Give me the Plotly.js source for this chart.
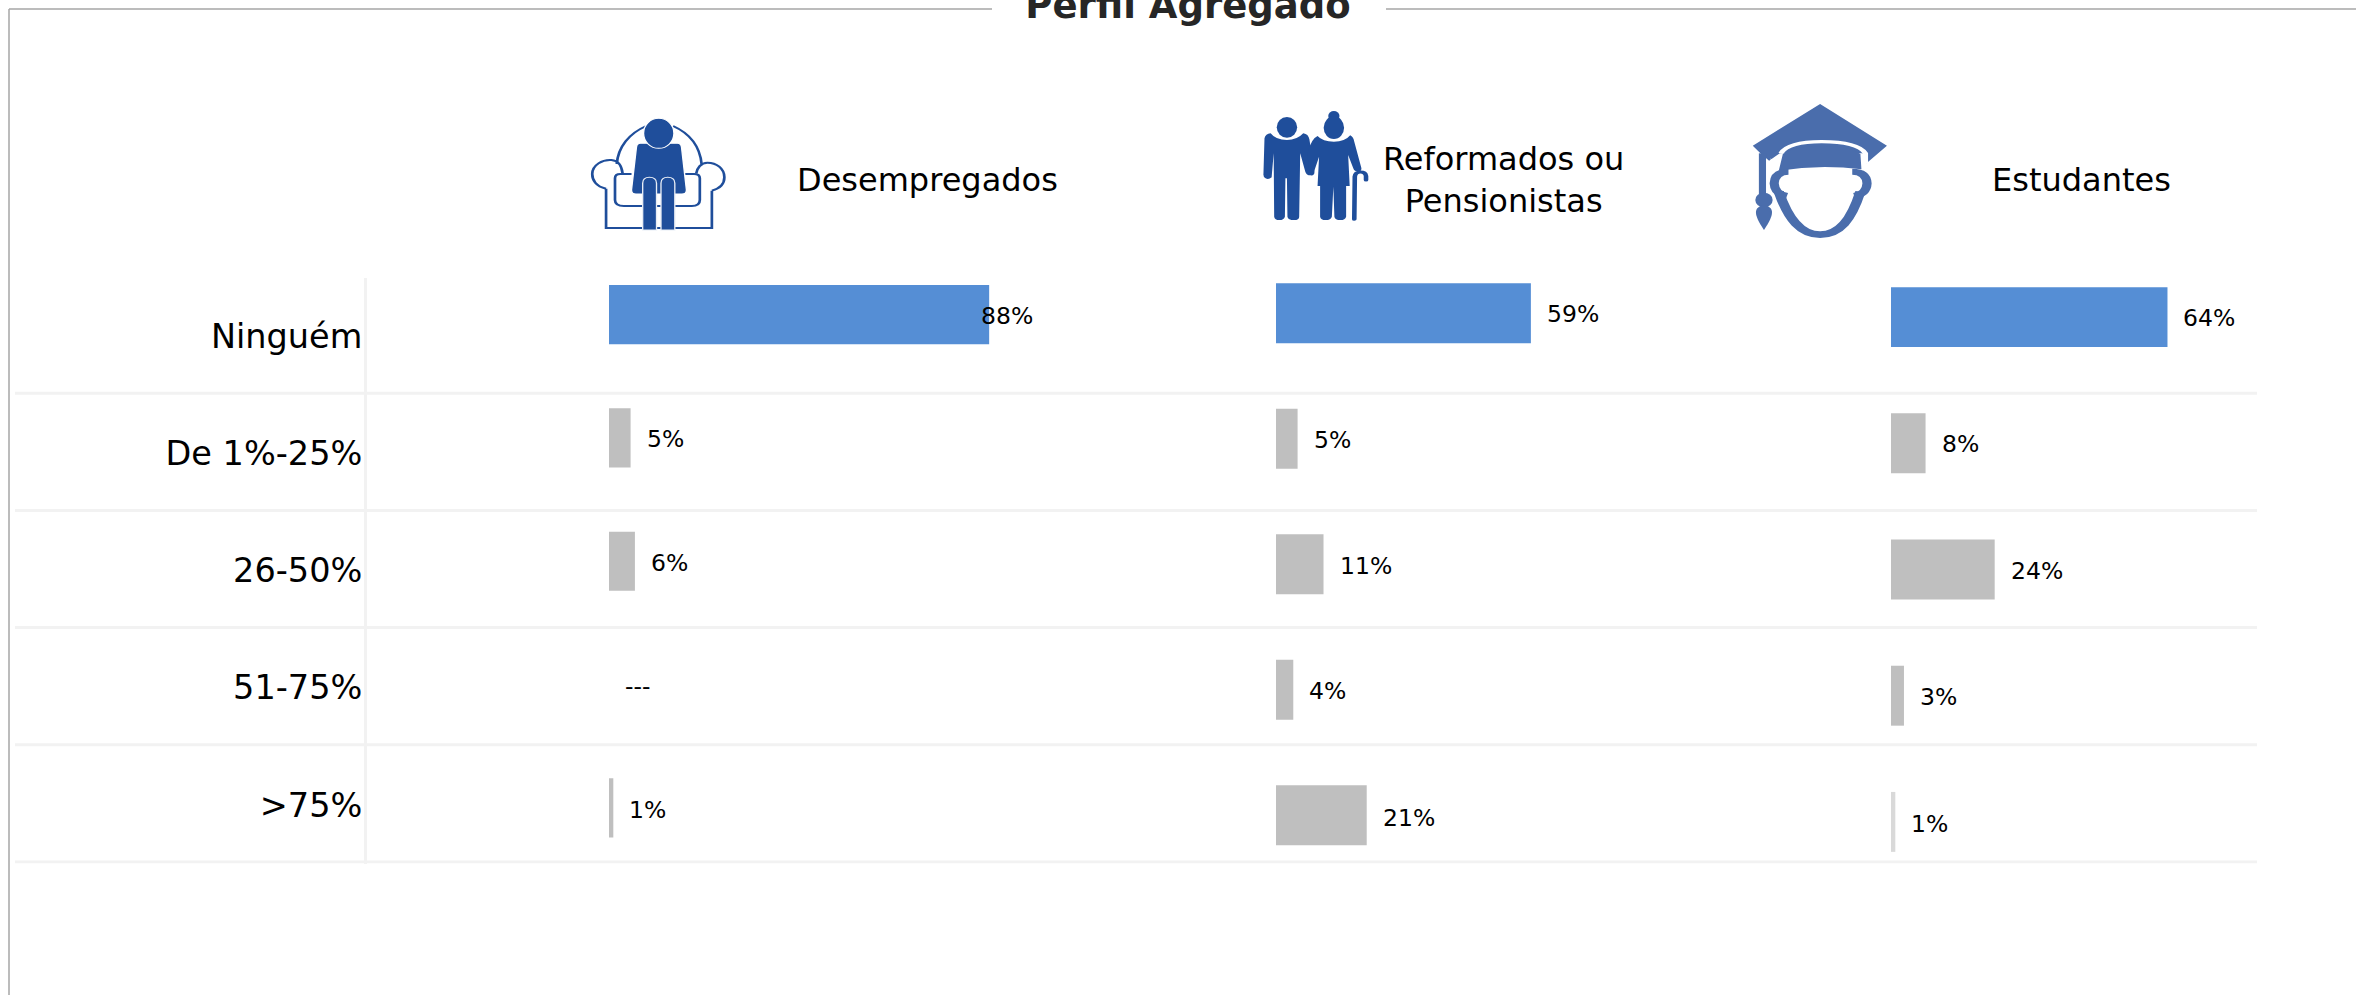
<!DOCTYPE html>
<html><head><meta charset="utf-8">
<script src="https://cdn.plot.ly/plotly-3.0.1.min.js"></script>
<style>html,body{margin:0;padding:0;background:#fff;overflow:hidden}</style>
</head><body><div id="chart" style="width:2356px;height:995px"></div>
<script>
const categories = ['Ninguém','De 1%-25%','26-50%','51-75%','>75%'];
const groupNames = ['Desempregados','Reformados ou<br>Pensionistas','Estudantes'];
const desempregados = [88,5,6,null,1];
const reformados = [59,5,11,4,21];
const estudantes = [64,8,24,3,1];
const chartTitle = 'Perfil Agregado';
const series = [desempregados,reformados,estudantes];

const W=2356,H=995,FONT='"DejaVu Sans", Verdana, sans-serif';
const px=x=>x/W, py=y=>1-y/H;
const cols=[{x0:609,top:253,rowH:123.3,gap:.52,head:[927,180],lift:[1,1.5,1.5,1.5,2.5]},
            {x0:1276,top:250.5,rowH:125.5,gap:.52,head:[1503,180],lift:[1,1.5,1.5,1.5,2.5]},
            {x0:1891,top:254,rowH:126.2,gap:.525,head:[2081,180],lift:[1,1,1,1,2]}];
const pxPerPct=4.32, BLUE='#558ed5', GREY='#bfbfbf', PALE='#d9d9d9';
const data=[],layout={width:W,height:H,autosize:false,margin:{l:0,r:0,t:0,b:0,pad:0},
  paper_bgcolor:'#fff',plot_bgcolor:'rgba(0,0,0,0)',showlegend:false,bargap:.52,
  title:{text:'<b>'+chartTitle+'</b>',x:1188/W,xanchor:'center',xref:'paper',y:1-5.5/H,yref:'paper',yanchor:'middle',font:{family:FONT,size:37,color:'#262626'}},
  shapes:[],annotations:[],images:[]};

// row-label axis
data.push({type:'scatter',mode:'none',x:categories.map(()=>0),y:categories,xaxis:'x4',yaxis:'y4',hoverinfo:'skip'});
layout.xaxis4={domain:[px(367),px(2257)],range:[0,1],visible:false,anchor:'y4',fixedrange:true};
layout.yaxis4={domain:[py(863.5),py(277.5)],type:'category',categoryorder:'array',categoryarray:categories,range:[4.5,-.5],autorange:false,
  anchor:'x4',showgrid:false,zeroline:false,showline:true,linecolor:'#f2f2f2',linewidth:3,ticks:'',ticklabelstandoff:-5,tickfont:{family:FONT,size:33.5,color:'#000'},fixedrange:true};
[.5,1.5,2.5,3.5,4.5].forEach(v=>layout.shapes.push({type:'line',xref:'paper',yref:'y4',x0:px(15),x1:px(2257),y0:v-.0128,y1:v-.0128,line:{color:'#f2f2f2',width:3},layer:'below'}));

// three bar panels
cols.forEach((c,i)=>{
  const n=i+1, xn=n===1?'xaxis':'xaxis'+n, yn=n===1?'yaxis':'yaxis'+n, vals=series[i];
  data.push({type:'bar',orientation:'h',x:vals,y:categories,xaxis:'x'+(n===1?'':n),yaxis:'y'+(n===1?'':n),
    width:1-c.gap,marker:{color:categories.map((_,k)=>k===0?BLUE:(i===2&&k===4?PALE:GREY)),line:{width:0}},hoverinfo:'skip',cliponaxis:false});
  layout[xn]={domain:[px(c.x0),px(c.x0+100*pxPerPct)],range:[0,100],autorange:false,visible:false,anchor:'y'+(n===1?'':n),fixedrange:true};
  layout[yn]={domain:[py(c.top+5*c.rowH),py(c.top)],type:'category',categoryorder:'array',categoryarray:categories,range:[4.5,-.5],autorange:false,visible:false,anchor:'x'+(n===1?'':n),fixedrange:true};
  vals.forEach((v,k)=>{
    layout.annotations.push({xref:'x'+(n===1?'':n),yref:'y'+(n===1?'':n),x:v==null?0:v,y:categories[k],
      text:v==null?'---':v+'%',showarrow:false,xanchor:'left',yanchor:'middle',
      xshift:v===88?-10:14,yshift:-c.lift[k],font:{family:FONT,size:23.5,color:'#000'}});
  });
  layout.annotations.push({xref:'paper',yref:'paper',x:px(c.head[0]),y:py(c.head[1]),text:groupNames[i],showarrow:false,
    xanchor:'center',yanchor:'middle',align:'center',font:{family:FONT,size:32,color:'#000'}});
});

// frame around the card
const frame='#a6a6a6';
[[9,9,992,9],[1386,9,2356,9],[9,9,9,995]].forEach(s=>layout.shapes.push({type:'line',xref:'paper',yref:'paper',
  x0:px(s[0]),y0:py(s[1]),x1:px(s[2]),y1:py(s[3]),line:{color:frame,width:1.5}}));

// icons, drawn in a 1568x780 box stretched over their crop
const svgImg=(body,w,h)=>'data:image/svg+xml;utf8,'+encodeURIComponent(
 `<svg xmlns="http://www.w3.org/2000/svg" width="${w}" height="${h}" viewBox="0 0 1568 780" preserveAspectRatio="none">${body}</svg>`);
const C1='#1f4e9b',C3='#4a6dac';
const chair=`<g fill="none" stroke="${C1}" stroke-width="6">
<path d="M172,222 C175,170 200,130 238,108 M298,108 C335,130 358,170 362,222"/>
<path d="M148,296 C125,290 117,270 117,252 C117,225 140,208 160,210 C175,212 183,228 185,250"/>
<path d="M385,302 C405,295 413,280 413,262 C413,235 395,218 375,218 C360,218 352,235 350,250"/>
<path d="M148,296 L148,414 L385,414 L385,302"/>
<path d="M205,252 L180,252 Q168,252 168,265 L168,330 Q168,348 188,348 L340,348 Q358,348 358,330 L358,265 Q358,252 345,252 L325,252"/></g>
<path fill="${C1}" stroke="#fff" stroke-width="3" d="M225,160 L308,160 Q316,160 317,172 L328,300 Q328,312 318,312 L215,312 Q205,312 205,300 L216,172 Q217,160 225,160 Z"/>
<ellipse cx="266" cy="130" rx="34" ry="45" fill="${C1}" stroke="#fff" stroke-width="3"/>
<path fill="${C1}" stroke="#e8edf5" stroke-width="3" d="M230,420 L230,280 Q230,262 245,262 Q261,262 261,280 L261,420 Z M271,420 L271,280 Q271,262 286,262 Q302,262 302,280 L302,420 Z"/>`;
const couple=`<g fill="${C1}">
<ellipse cx="92" cy="112" rx="20" ry="31"/>
<path d="M60,130 Q70,150 92,150 Q112,150 124,130 Q134,132 136,148 L146,245 Q146,258 138,256 Q130,256 128,245 L118,190 L116,380 Q116,390 106,390 Q94,390 93,380 L92,265 L89,265 L88,380 Q86,390 77,390 Q68,390 67,380 L66,190 L62,262 Q56,270 50,265 Q45,262 46,250 L48,145 Q50,132 60,130 Z"/>
<ellipse cx="184" cy="78" rx="11" ry="15"/>
<ellipse cx="184" cy="113" rx="20" ry="34"/>
<path d="M152,138 Q162,155 184,155 Q206,155 216,136 Q222,140 224,155 L238,235 Q238,245 232,245 Q224,245 222,235 L212,195 L215,288 L208,288 L208,380 Q206,390 197,390 Q186,390 185,380 L183,290 L180,380 Q178,390 168,390 Q158,390 157,380 L157,288 L152,288 L155,200 L144,250 Q140,258 136,245 L132,190 Q140,145 152,138 Z"/></g>
<path fill="none" stroke="${C1}" stroke-width="9" stroke-linecap="round" d="M224,388 L225,260 Q226,246 236,246 Q246,246 247,258 L247,270"/>`;
const cap=`<g transform="translate(-784,0)">
<path fill="${C3}" d="M1137,42 L1268,167 L1228,220 L1222,190 L1058,190 L1037,212 L1020,190 L1005,167 Z"/>
<path fill="none" stroke="#fff" stroke-width="10" d="M1060,190 Q1075,155 1140,155 Q1210,155 1226,190 L1226,220"/>
<path fill="#fff" d="M1040,205 L1058,235 L1216,228 L1226,222 L1232,300 L1048,300 Z"/>
<path fill="${C3}" d="M1064,192 Q1085,168 1140,168 Q1195,168 1216,192 L1218,238 Q1137,222 1056,242 Z"/>
<rect x="1017" y="190" width="14" height="130" fill="${C3}"/>
<ellipse cx="1027" cy="330" rx="17" ry="22" fill="${C3}"/>
<path fill="${C3}" d="M1027,345 C1048,352 1048,372 1027,420 C1006,372 1006,352 1027,345 Z"/>
<path fill="none" stroke="${C3}" stroke-width="20" d="M1056,305 C1075,390 1100,434 1137,434 C1175,434 1198,390 1216,305"/>
<path fill="none" stroke="${C3}" stroke-width="18" d="M1075,245 Q1048,245 1047,280 Q1048,312 1072,318 M1200,245 Q1228,245 1229,280 Q1228,312 1204,318"/></g>`;
const addImg=(body,x,w)=>layout.images.push({source:svgImg(body,w,260),xref:'paper',yref:'paper',x:px(x),y:py(90),sizex:w/W,sizey:260/H,
  xanchor:'left',yanchor:'top',sizing:'stretch',layer:'above'});
addImg(chair,540,700);
addImg(couple,1240,800);
addImg(cap,1640,800);

Plotly.newPlot('chart',data,layout,{displayModeBar:false,responsive:false,staticPlot:true});
</script></body></html>
